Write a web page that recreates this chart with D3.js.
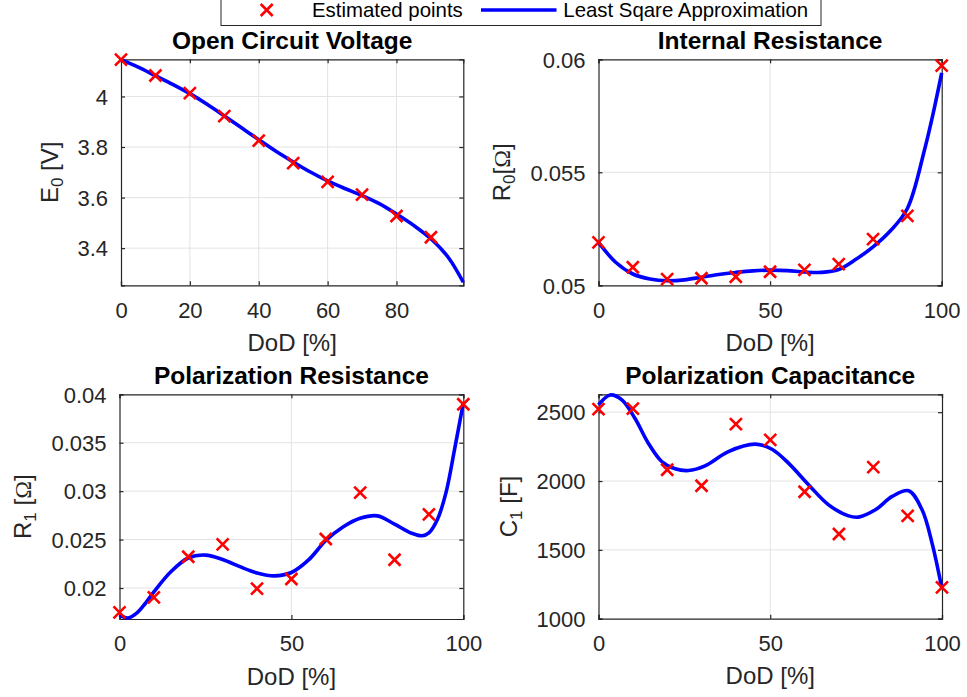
<!DOCTYPE html>
<html><head><meta charset="utf-8">
<script src="https://cdn.jsdelivr.net/npm/d3@7/dist/d3.min.js"></script>
<style>
body{margin:0;background:#fff;}
svg{display:block;font-family:"Liberation Sans",Arial,Helvetica,sans-serif;}
</style></head>
<body>
<svg id="chart" width="967" height="697"></svg>
<script>
// ---------- data ----------
const dod = [0,10,20,30,40,50,60,70,80,90,100];
const dodOcv = [0,10,20,30,40,50,60,70,80,90];

const ocvPoints = [4.146,4.083,4.013,3.922,3.825,3.736,3.662,3.612,3.527,3.443];
const r0Points  = [0.0519,0.0508,0.05027,0.05031,0.05038,0.0506,0.05068,0.05094,0.05204,0.05307,0.05972];
const r1Points  = [0.01749,0.01904,0.02323,0.02451,0.01993,0.02093,0.02506,0.02985,0.02292,0.02761,0.03897];
const c1Points  = [2522,2526,2082,1966,2413,2299,1922,1615,2101,1747,1228];

const ocvFitX = [0,5,10,15,20,25,30,35,40,45,50,55,60,65,70,75,80,85,90,95,99.4];
const ocvFit  = [4.146,4.116,4.082,4.048,4.011,3.969,3.923,3.876,3.829,3.783,3.741,3.701,3.666,3.636,3.608,3.576,3.535,3.49,3.437,3.364,3.265];

const r0FitX = [0,5,10,15,20,25,30,35,40,45,50,55,60,65,70,75,80,85,90,95,97.5,100];
const r0Fit  = [0.0519,0.05102,0.0505,0.05028,0.0502,0.05024,0.05036,0.05048,0.05057,0.05064,0.05067,0.05065,0.05059,0.05057,0.0507,0.05115,0.0517,0.0524,0.0534,0.056,0.0576,0.0594];

const r1FitX = [0,2.5,5,7.5,10,15,20,25,30,35,40,45,50,55,60,65,70,75,80,85,88,90,92.5,95,97.5,100];
const r1Fit  = [0.0172,0.0169,0.0174,0.0184,0.0196,0.0217,0.0231,0.0234,0.02295,0.0222,0.02155,0.02125,0.0216,0.0229,0.0249,0.0263,0.0272,0.02745,0.0266,0.02565,0.0254,0.0257,0.0271,0.0299,0.0344,0.0391];

const c1FitX = [0,3.4,6.8,10.6,14.5,18.4,22.3,26.2,31,37.8,45.6,50.5,55.3,61.2,67,72.8,75.7,80.6,85.5,90.3,94.2,97.1,100];
const c1Fit  = [2553,2625,2589,2456,2275,2142,2089,2076,2110,2214,2268,2231,2130,1972,1827,1747,1738,1791,1888,1929,1791,1549,1215];

const titles = ["Open Circuit Voltage","Internal Resistance","Polarization Resistance","Polarization Capacitance"];
const xLabel = "DoD [%]";
const legendLabels = ["Estimated points","Least Sqare Approximation"];

const xTicks1 = [0,20,40,60,80];
const xTicks = [0,50,100];
const yTicksOcv = [3.4,3.6,3.8,4];
const yTicksR0 = [0.05,0.055,0.06];
const yTicksR1 = [0.02,0.025,0.03,0.035,0.04];
const yTicksC1 = [1000,1500,2000,2500];

// ---------- layout ----------
const panels = [
  {box:[121,463.3,59.3,285.3], xd:[0,99.4], yd:[3.253,4.147], xt:xTicks1, yt:yTicksOcv,
   px:dodOcv, py:ocvPoints, fx:ocvFitX, fy:ocvFit, title:titles[0],
   ylab:[{t:"E"},{t:"0",sub:true},{t:" [V]"}], ylOff:63.5},
  {box:[598.5,941.7,59.3,285.3], xd:[0,100], yd:[0.05,0.06], xt:xTicks, yt:yTicksR0,
   px:dod, py:r0Points, fx:r0FitX, fy:r0Fit, title:titles[1],
   ylab:[{t:"R"},{t:"0",sub:true},{t:"["},{t:"Ω",serif:true},{t:"]"}], ylOff:88.5},
  {box:[119.5,463.3,394.3,619], xd:[0,100], yd:[0.0168,0.04], xt:xTicks, yt:yTicksR1,
   px:dod, py:r1Points, fx:r1FitX, fy:r1Fit, title:titles[2],
   ylab:[{t:"R"},{t:"1",sub:true},{t:" ["},{t:"Ω",serif:true},{t:"]"}], ylOff:89},
  {box:[598.5,942,394.3,618.7], xd:[0,100], yd:[1000,2630], xt:xTicks, yt:yTicksC1,
   px:dod, py:c1Points, fx:c1FitX, fy:c1Fit, title:titles[3],
   ylab:[{t:"C"},{t:"1",sub:true},{t:" [F]"}], ylOff:82}
];

const svg = d3.select("#chart");
const AX = "#262626";
const RED = "#ff0000", BLUE = "#0000ff";
const MS = 6; // marker half size

function xMarker(g, x, y){
  g.append("path")
    .attr("d",`M${x-MS},${y-MS}L${x+MS},${y+MS}M${x-MS},${y+MS}L${x+MS},${y-MS}`)
    .attr("stroke",RED).attr("stroke-width",2.6).attr("fill","none");
}

panels.forEach(p=>{
  const [l,r,t,b] = p.box;
  const x = d3.scaleLinear().domain(p.xd).range([l,r]);
  const y = d3.scaleLinear().domain(p.yd).range([b,t]);
  const g = svg.append("g");

  // grid
  g.selectAll(null).data(p.xt.filter(v=>v>p.xd[0]&&v<p.xd[1])).enter().append("line")
    .attr("x1",d=>x(d)).attr("x2",d=>x(d)).attr("y1",t).attr("y2",b)
    .attr("stroke","#e3e3e3").attr("stroke-width",1);
  g.selectAll(null).data(p.yt.filter(v=>v>p.yd[0]&&v<p.yd[1])).enter().append("line")
    .attr("y1",d=>y(d)).attr("y2",d=>y(d)).attr("x1",l).attr("x2",r)
    .attr("stroke","#e3e3e3").attr("stroke-width",1);

  // axes via d3 axis (inward ticks)
  const fmt = d=>String(+d.toFixed(4));
  const ax = g.append("g").attr("transform",`translate(0,${b})`)
    .call(d3.axisBottom(x).tickValues(p.xt).tickSize(-4).tickPadding(12).tickFormat(fmt));
  const axT = g.append("g").attr("transform",`translate(0,${t})`)
    .call(d3.axisTop(x).tickValues(p.xt).tickSize(-4).tickFormat(""));
  const ay = g.append("g").attr("transform",`translate(${l},0)`)
    .call(d3.axisLeft(y).tickValues(p.yt).tickSize(-4).tickPadding(13).tickFormat(fmt));
  const ayR = g.append("g").attr("transform",`translate(${r},0)`)
    .call(d3.axisRight(y).tickValues(p.yt).tickSize(-4).tickFormat(""));
  [ax,axT,ay,ayR].forEach(a=>{
    a.select(".domain").attr("stroke",AX).attr("stroke-width",1.2);
    a.selectAll(".tick line").attr("stroke",AX).attr("stroke-width",1.2);
    a.selectAll(".tick text").attr("fill",AX).attr("font-size",22)
      .attr("font-family","'Liberation Sans',Arial,sans-serif");
  });
  ax.selectAll(".tick text").attr("y",32.4).attr("dy",0);
  ay.selectAll(".tick text").attr("dy","0.35em");

  // fitted curve
  const lineGen = d3.line().x((d,i)=>x(p.fx[i])).y(d=>y(d)).curve(d3.curveCatmullRom.alpha(0.5));
  g.append("path").attr("d",lineGen(p.fy)).attr("fill","none")
    .attr("stroke",BLUE).attr("stroke-width",3.6).attr("stroke-linejoin","round");

  // markers
  p.py.forEach((v,i)=>xMarker(g, x(p.px[i]), y(v)));

  // title
  g.append("text").attr("x",(l+r)/2).attr("y",t-10.5).attr("text-anchor","middle")
    .attr("font-size",24.5).attr("font-weight","bold").attr("fill","#000").text(p.title);

  // x label
  g.append("text").attr("x",(l+r)/2).attr("y",b+65.5).attr("text-anchor","middle")
    .attr("font-size",24).attr("fill",AX).text(xLabel);

  // y label
  const yl = g.append("text")
    .attr("transform",`translate(${l-p.ylOff},${(t+b)/2}) rotate(-90)`)
    .attr("text-anchor","middle").attr("font-size",24).attr("fill",AX);
  p.ylab.forEach(s=>{
    const ts = yl.append("tspan").text(s.t);
    if(s.sub) ts.attr("font-size",17).attr("baseline-shift","-28%");
    if(s.serif) ts.attr("font-family","'Liberation Serif','Times New Roman',serif");
  });
});

// ---------- legend ----------
const lg = svg.append("g");
lg.append("rect").attr("x",221).attr("y",-6).attr("width",600).attr("height",31.5)
  .attr("fill","#fff").attr("stroke",AX).attr("stroke-width",1);
xMarker(lg, 266.7, 10);
lg.append("text").attr("x",312).attr("y",17.3).attr("font-size",20.4).attr("fill","#000").text(legendLabels[0]);
lg.append("line").attr("x1",481).attr("x2",556.5).attr("y1",10).attr("y2",10)
  .attr("stroke",BLUE).attr("stroke-width",3.6);
lg.append("text").attr("x",563.3).attr("y",17.3).attr("font-size",20.4).attr("fill","#000").text(legendLabels[1]);
</script>
</body></html>
